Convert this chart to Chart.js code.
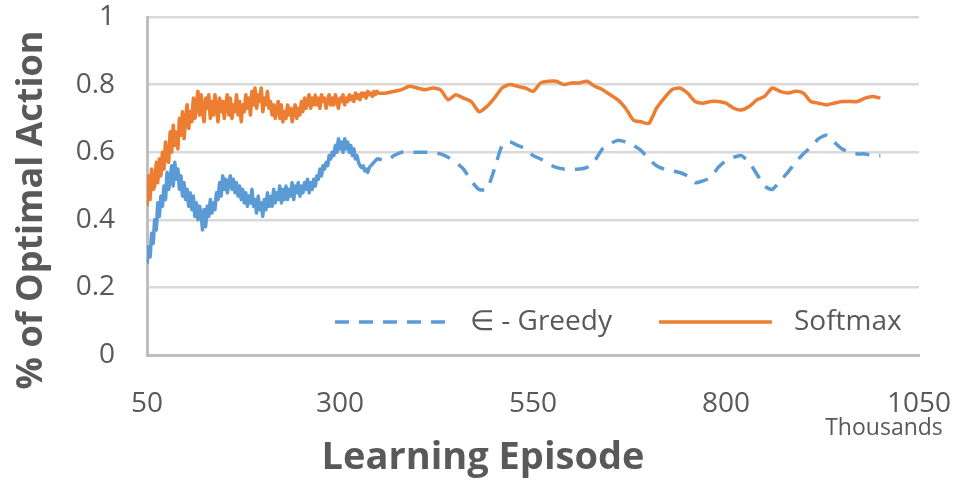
<!DOCTYPE html>
<html>
<head>
<meta charset="utf-8">
<title>% of Optimal Action</title>
<style>
  html, body { margin: 0; padding: 0; background: #fff; }
  #wrap { width: 958px; height: 482px; position: relative; }
</style>
</head>
<body>
<div id="wrap"><canvas id="myChart"></canvas></div>
<script src="https://cdn.jsdelivr.net/npm/chart.js"></script>
<script>
// learning episodes (thousands)
const episodes = [
  50, 52, 54, 56, 58, 60, 62, 64, 66, 68,
  70, 72, 74, 76, 78, 80, 82, 84, 86, 88,
  90, 92, 94, 96, 98, 100, 102, 104, 106, 108,
  110, 112, 114, 116, 118, 120, 122, 124, 126, 128,
  130, 132, 134, 136, 138, 140, 142, 144, 146, 148,
  150, 152, 154, 156, 158, 160, 162, 164, 166, 168,
  170, 172, 174, 176, 178, 180, 182, 184, 186, 188,
  190, 192, 194, 196, 198, 200, 202, 204, 206, 208,
  210, 212, 214, 216, 218, 220, 222, 224, 226, 228,
  230, 232, 234, 236, 238, 240, 242, 244, 246, 248,
  250, 252, 254, 256, 258, 260, 262, 264, 266, 268,
  270, 272, 274, 276, 278, 280, 282, 284, 286, 288,
  290, 292, 294, 296, 298, 300, 302, 304, 306, 308,
  310, 312, 314, 316, 318, 320, 322, 324, 326, 328,
  330, 332, 334, 336, 338, 340, 342, 344, 346, 348,
  350,
  360, 370, 380, 390, 400, 410, 420, 430, 440, 450,
  460, 470, 480, 490, 500, 510, 520, 530, 540, 550,
  560, 570, 580, 590, 600, 610, 620, 630, 640, 650,
  660, 670, 680, 690, 700, 710, 720, 730, 740, 750,
  760, 770, 780, 790, 800, 810, 820, 830, 840, 850,
  860, 870, 880, 890, 900, 910, 920, 930, 940, 950,
  960, 970, 980, 990, 1000
];

// ∈ - Greedy
const greedy = [
  0.27, 0.32, 0.29, 0.36, 0.33, 0.40, 0.37, 0.45, 0.41, 0.47,
  0.44, 0.50, 0.46, 0.54, 0.49, 0.52, 0.56, 0.50, 0.57, 0.52,
  0.55, 0.49, 0.53, 0.47, 0.51, 0.46, 0.49, 0.44, 0.48, 0.43,
  0.47, 0.41, 0.45, 0.40, 0.44, 0.42, 0.37, 0.43, 0.38, 0.44,
  0.41, 0.46, 0.42, 0.45, 0.43, 0.48, 0.46, 0.51, 0.47, 0.53,
  0.49, 0.52, 0.48, 0.51, 0.53, 0.49, 0.52, 0.48, 0.51, 0.47,
  0.50, 0.46, 0.49, 0.45, 0.48, 0.44, 0.47, 0.45, 0.49, 0.44,
  0.46, 0.42, 0.47, 0.43, 0.45, 0.41, 0.46, 0.43, 0.48, 0.44,
  0.47, 0.44, 0.49, 0.45, 0.48, 0.46, 0.50, 0.45, 0.49, 0.46,
  0.50, 0.46, 0.49, 0.47, 0.51, 0.46, 0.50, 0.48, 0.51, 0.47,
  0.50, 0.48, 0.51, 0.49, 0.52, 0.48, 0.51, 0.49, 0.52, 0.50,
  0.53, 0.52, 0.55, 0.53, 0.56, 0.55, 0.57, 0.56, 0.59, 0.58,
  0.60, 0.59, 0.62, 0.60, 0.64, 0.61, 0.63, 0.60, 0.64, 0.61,
  0.63, 0.60, 0.62, 0.59, 0.61, 0.58, 0.59, 0.57, 0.56, 0.555,
  0.56, 0.545, 0.55, 0.54, 0.555, 0.56, 0.565, 0.57, 0.575, 0.58,
  0.58,
  0.575, 0.59, 0.60, 0.60, 0.60, 0.60, 0.60, 0.595, 0.585, 0.57,
  0.55, 0.515, 0.49, 0.49, 0.55, 0.62, 0.63, 0.62, 0.61, 0.59,
  0.58, 0.565, 0.555, 0.55, 0.55, 0.55, 0.555, 0.575, 0.61, 0.625,
  0.635, 0.63, 0.62, 0.605, 0.58, 0.56, 0.55, 0.545, 0.54, 0.53,
  0.51, 0.515, 0.525, 0.555, 0.575, 0.585, 0.59, 0.57, 0.535, 0.50,
  0.49, 0.515, 0.54, 0.57, 0.595, 0.615, 0.64, 0.65, 0.63, 0.61,
  0.60, 0.595, 0.595, 0.59, 0.59
];

// Softmax
const softmax = [
  0.44, 0.53, 0.46, 0.55, 0.49, 0.50, 0.57, 0.51, 0.58, 0.53,
  0.60, 0.55, 0.63, 0.58, 0.57, 0.66, 0.60, 0.68, 0.62, 0.66,
  0.61, 0.70, 0.65, 0.72, 0.64, 0.70, 0.74, 0.67, 0.72, 0.69,
  0.76, 0.70, 0.74, 0.78, 0.71, 0.77, 0.72, 0.69, 0.76, 0.73,
  0.77, 0.70, 0.75, 0.71, 0.77, 0.73, 0.69, 0.76, 0.72, 0.75,
  0.70, 0.74, 0.77, 0.71, 0.76, 0.70, 0.74, 0.72, 0.77, 0.71,
  0.75, 0.69, 0.74, 0.72, 0.77, 0.73, 0.76, 0.71, 0.78, 0.74,
  0.79, 0.73, 0.77, 0.75, 0.79, 0.72, 0.76, 0.74, 0.78, 0.73,
  0.75, 0.71, 0.74, 0.70, 0.73, 0.75, 0.70, 0.74, 0.69, 0.72,
  0.70, 0.74, 0.71, 0.73, 0.69, 0.72, 0.74, 0.70, 0.73, 0.71,
  0.75, 0.72, 0.76, 0.73, 0.75, 0.77, 0.73, 0.76, 0.74, 0.77,
  0.74, 0.76, 0.73, 0.77, 0.75, 0.76, 0.73, 0.75, 0.77, 0.74,
  0.76, 0.74, 0.77, 0.75, 0.73, 0.76, 0.75, 0.77, 0.74, 0.76,
  0.75, 0.77, 0.755, 0.765, 0.75, 0.775, 0.76, 0.77, 0.755, 0.775,
  0.765, 0.775, 0.76, 0.78, 0.77, 0.775, 0.765, 0.78, 0.77, 0.78,
  0.775,
  0.775, 0.78, 0.785, 0.795, 0.79, 0.785, 0.79, 0.785, 0.755, 0.77,
  0.76, 0.75, 0.72, 0.735, 0.76, 0.79, 0.80, 0.795, 0.79, 0.78,
  0.805, 0.81, 0.81, 0.80, 0.805, 0.805, 0.81, 0.795, 0.785, 0.77,
  0.755, 0.73, 0.695, 0.69, 0.685, 0.73, 0.76, 0.785, 0.79, 0.775,
  0.75, 0.745, 0.75, 0.75, 0.745, 0.73, 0.725, 0.735, 0.755, 0.765,
  0.79, 0.78, 0.775, 0.78, 0.775, 0.75, 0.745, 0.74, 0.745, 0.75,
  0.75, 0.75, 0.76, 0.765, 0.76
];

const xTickValues = [50, 300, 550, 800, 1050];
const yTickValues = [0, 0.2, 0.4, 0.6, 0.8, 1];

const textColor = '#595959';
const fontName = "'Open Sans', sans-serif";

function toPoints(ys) {
  return episodes.map((x, i) => ({ x: x, y: ys[i] }));
}

// axis titles, "Thousands" and the legend inside the plot
const extras = {
  id: 'extras',
  afterDraw(chart) {
    const c = chart.ctx;
    const area = chart.chartArea;
    c.save();
    c.fillStyle = textColor;
    c.textBaseline = 'middle';

    c.font = 'bold 36px ' + fontName;
    c.textAlign = 'center';
    c.save();
    c.translate(32, 210);
    c.rotate(-Math.PI / 2);
    c.fillText('% of Optimal Action', 0, 0);
    c.restore();

    c.font = 'bold 38px ' + fontName;
    c.fillText('Learning Episode', 483, 458);

    c.font = '23px ' + fontName;
    c.fillText('Thousands', 884, 428);

    // legend
    c.font = '28px ' + fontName;
    c.textAlign = 'left';
    let x = 335;
    const y = area.bottom - 33;
    chart.data.datasets.forEach(ds => {
      c.save();
      c.strokeStyle = ds.borderColor;
      c.lineWidth = ds.borderWidth;
      c.setLineDash(ds.borderDash || []);
      c.beginPath();
      c.moveTo(x, y);
      c.lineTo(x + 113, y);
      c.stroke();
      c.restore();
      x += 113 + 22;
      c.fillText(ds.label, x, y);
      x += c.measureText(ds.label).width + 47;
    });
    c.restore();
  }
};

const ctx = document.getElementById('myChart').getContext('2d');
const myChart = new Chart(ctx, {
  type: 'line',
  data: {
    datasets: [{
      label: '∈ - Greedy',
      data: toPoints(greedy),
      borderColor: '#5B9BD5',
      borderWidth: 3.5,
      borderDash: [14, 10],
      // the noisy start reads as a solid band in the original
      segment: { borderDash: s => (s.p1.parsed.x <= 340 ? [] : undefined) },
      pointRadius: 0,
      tension: 0.2,
      order: 2
    }, {
      label: 'Softmax',
      data: toPoints(softmax),
      borderColor: '#ED7D31',
      borderWidth: 3.5,
      pointRadius: 0,
      tension: 0.2,
      order: 1
    }]
  },
  options: {
    responsive: true,
    maintainAspectRatio: false,
    animation: false,
    layout: { padding: { top: 17, right: 39, bottom: 0, left: 0 } },
    plugins: {
      legend: { display: false },
      tooltip: { enabled: false }
    },
    scales: {
      x: {
        type: 'linear',
        min: 50,
        max: 1050,
        afterBuildTicks: s => { s.ticks = xTickValues.map(v => ({ value: v })); },
        afterFit: s => { s.height = 127; s.paddingLeft = 0; s.paddingRight = 0; },
        grid: { display: false },
        border: { display: true, color: '#bfbfbf', width: 3 },
        ticks: {
          color: textColor,
          font: { family: fontName, size: 28 },
          padding: 24,
          maxRotation: 0,
          autoSkip: false,
          callback: v => String(v)
        }
      },
      y: {
        min: 0,
        max: 1,
        afterBuildTicks: s => { s.ticks = yTickValues.map(v => ({ value: v })); },
        afterFit: s => { s.width = 147; s.paddingTop = 0; s.paddingBottom = 0; },
        grid: { color: '#d9d9d9', lineWidth: 2.5, drawTicks: false },
        border: { display: true, color: '#bfbfbf', width: 3 },
        ticks: {
          color: textColor,
          font: { family: fontName, size: 28 },
          padding: 32,
          callback: v => String(+v.toFixed(1))
        }
      }
    }
  },
  plugins: [extras]
});
</script>
</body>
</html>
